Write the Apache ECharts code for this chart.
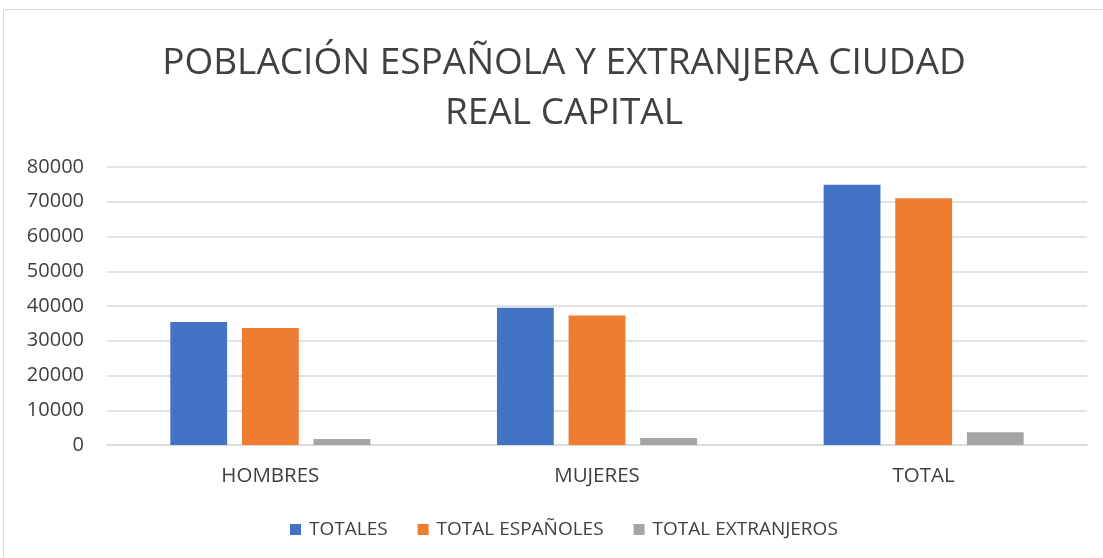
<!DOCTYPE html>
<html>
<head>
<meta charset="utf-8">
<script src="https://cdn.jsdelivr.net/npm/echarts@6/dist/echarts.min.js"></script>
<style>
  html, body { margin: 0; padding: 0; background: #fff; }
  #main { width: 1103px; height: 558px; }
</style>
</head>
<body>
<div id="main"></div>
<script>
const categories = ["HOMBRES", "MUJERES", "TOTAL"];
const seriesNames = ["TOTALES", "TOTAL ESPAÑOLES", "TOTAL EXTRANJEROS"];
const totales = [35400, 39500, 74900];
const espanoles = [33700, 37300, 71000];
const extranjeros = [1700, 2000, 3700];
const colors = ["#4472C4", "#ED7D31", "#A5A5A5"];

const chart = echarts.init(document.getElementById("main"));

const font = "Open Sans, Noto Sans, sans-serif";
const textColor = "#404040";

function barSeries(name, data, color) {
  return {
    name: name,
    type: "bar",
    data: data,
    barWidth: "17.4%",
    barGap: "26%",
    itemStyle: { color: color },
  };
}

const option = {
  animation: false,
  color: colors,
  graphic: [
    {
      type: "rect",
      shape: { x: 3.5, y: 9.5, width: 1110, height: 560 },
      style: { fill: "none", stroke: "#d9d9d9", lineWidth: 1 },
      silent: true,
    },
  ],
  title: {
    text: "POBLACIÓN ESPAÑOLA Y EXTRANJERA CIUDAD\nREAL CAPITAL",
    left: 559,
    top: 33,
    textAlign: "center",
    textStyle: {
      fontFamily: font,
      fontWeight: "normal",
      fontSize: 37,
      color: textColor,
      lineHeight: 50,
    },
  },
  legend: {
    data: seriesNames,
    bottom: 14,
    left: 285,
    icon: "rect",
    itemWidth: 11,
    itemHeight: 11,
    itemGap: 30,
    textStyle: { fontFamily: font, fontSize: 19, color: textColor, padding: [0, 0, 0, 3] },
  },
  grid: {
    left: 107,
    right: 16,
    top: 167,
    height: 278,
    containLabel: false,
  },
  xAxis: {
    type: "category",
    data: categories,
    axisLine: { lineStyle: { color: "#d9d9d9", width: 1.5 } },
    axisTick: { show: false },
    axisLabel: {
      fontFamily: font,
      fontSize: 20.5,
      color: textColor,
      margin: 21,
    },
  },
  yAxis: {
    type: "value",
    min: 0,
    max: 80000,
    interval: 10000,
    axisLine: { show: false },
    axisTick: { show: false },
    splitLine: { lineStyle: { color: "#d9d9d9", width: 1.5 } },
    axisLabel: {
      fontFamily: font,
      fontSize: 20,
      color: textColor,
      margin: 23,
      formatter: (v) => String(v),
    },
  },
  series: [
    barSeries(seriesNames[0], totales, colors[0]),
    barSeries(seriesNames[1], espanoles, colors[1]),
    barSeries(seriesNames[2], extranjeros, colors[2]),
  ],
};

chart.setOption(option);
</script>
</body>
</html>
